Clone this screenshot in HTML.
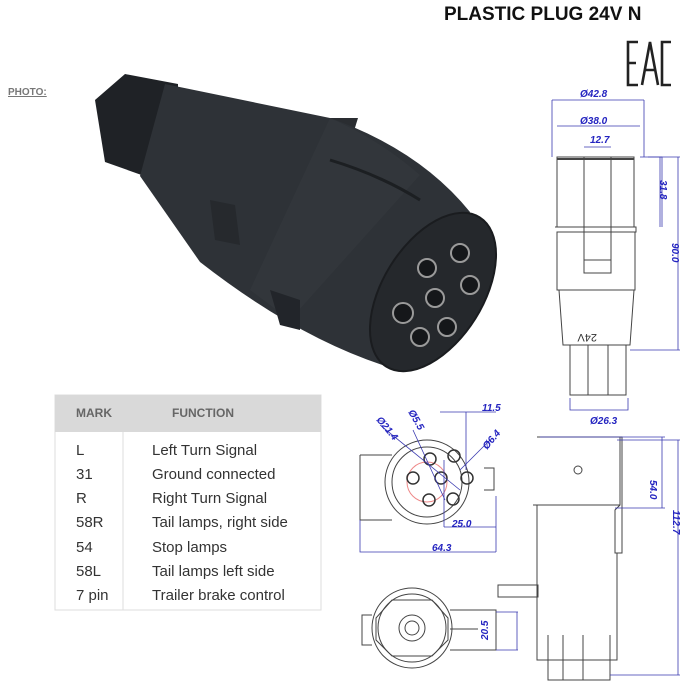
<!DOCTYPE html>
<html><head><meta charset="utf-8"><style>
body{margin:0;background:#fff;width:700px;height:700px;overflow:hidden;font-family:"Liberation Sans",sans-serif}
svg{position:absolute;left:0;top:0}
</style></head><body>
<svg width="700" height="700" viewBox="0 0 700 700" xmlns="http://www.w3.org/2000/svg">
<text x="444" y="20" font-size="19" font-weight="bold" fill="#111">PLASTIC PLUG 24V N</text>
<g stroke="#222" stroke-width="2.6" fill="none">
<path d="M638 42 H628 V85 H638 M628 63 H636"/>
<path d="M642 85 L650 42 L658 85 M645 70 H655"/>
<path d="M671 42 H662 V85 H671"/>
</g>
<text x="8" y="95" font-size="10" font-weight="bold" fill="#777" text-decoration="underline">PHOTO:</text>

<!-- photo -->
<path d="M310 140 L318 118 L358 118 L345 160 Z" fill="#2a2d31"/>
<path d="M95 100 L125 74 L178 84 L178 168 L150 178 L105 162 Z" fill="#1f2226"/>
<path d="M165 84 L330 118 Q420 150 470 212 L392 368 Q300 340 200 262 L140 176 Z" fill="#2e3237"/>
<path d="M330 118 Q380 140 420 175 L290 320 L250 290 Z" fill="#32363b"/>
<path d="M270 290 L300 300 L300 330 L280 325 Z" fill="#22252a"/>
<path d="M210 200 L235 205 L240 245 L215 240 Z" fill="#26292d"/>
<path d="M330 160 Q380 175 420 200" stroke="#1c1f22" stroke-width="3" fill="none"/>
<ellipse cx="433" cy="292" rx="88" ry="50" transform="rotate(-58 433 292)" fill="#25282c" stroke="#1a1c1f" stroke-width="2"/>
<g fill="#15171a" stroke="#9a9a9a" stroke-width="2">
<circle cx="427" cy="268" r="9"/><circle cx="460" cy="253" r="9"/><circle cx="470" cy="285" r="9"/>
<circle cx="435" cy="298" r="9"/><circle cx="403" cy="313" r="10"/><circle cx="420" cy="337" r="9"/><circle cx="447" cy="327" r="9"/>
</g>

<!-- table -->
<rect x="55" y="395" width="266" height="215" fill="#fff" stroke="#ddd"/>
<rect x="55" y="395" width="266" height="37" fill="#d9d9d9"/>
<line x1="123" y1="432" x2="123" y2="610" stroke="#ddd"/>
<text font-size="12" font-weight="bold" fill="#666"><tspan x="76" y="417">MARK</tspan><tspan x="172" y="417">FUNCTION</tspan></text>
<g font-size="15" fill="#333">
<text x="76" y="455">L</text><text x="152" y="455">Left Turn Signal</text>
<text x="76" y="479">31</text><text x="152" y="479">Ground connected</text>
<text x="76" y="503">R</text><text x="152" y="503">Right Turn Signal</text>
<text x="76" y="527">58R</text><text x="152" y="527">Tail lamps, right side</text>
<text x="76" y="552">54</text><text x="152" y="552">Stop lamps</text>
<text x="76" y="576">58L</text><text x="152" y="576">Tail lamps left side</text>
<text x="76" y="600">7 pin</text><text x="152" y="600">Trailer brake control</text>
</g>

<!-- drawings -->
<g fill="none" stroke="#444" stroke-width="1">
<rect x="557" y="157" width="77" height="70"/>
<line x1="557" y1="159" x2="634" y2="159" stroke-width="2"/>
<path d="M555 227 H636 V232 H557 V290 H635 V232 M584 157 V273 H611 V157 M584 260 H611"/>
<path d="M559 290 L563 345 H630 L634 290"/>
<path d="M570 345 V395 H626 V345 M588 345 V395 M608 345 V395"/>
<path d="M360 455 H392 M360 455 V520 H392"/>
<circle cx="427" cy="482" r="42"/><circle cx="427" cy="482" r="35"/>
<circle cx="427" cy="482" r="20" stroke="#e88" />
<g stroke="#333" stroke-width="1.5">
<circle cx="430" cy="459" r="6"/><circle cx="454" cy="456" r="6"/><circle cx="413" cy="478" r="6"/>
<circle cx="441" cy="478" r="6"/><circle cx="467" cy="478" r="6"/><circle cx="429" cy="500" r="6"/><circle cx="453" cy="499" r="6"/>
</g>
<path d="M484 468 H494 V490 H484"/>
<path d="M537 437 H622 V553 H615 V510 L620 505 V437 M533 505 H620 M537 505 V660 H617 V553"/>
<circle cx="578" cy="470" r="4"/>
<path d="M498 585 H538 V597 H498 Z"/>
<path d="M548 635 V680 H610 V635 M563 635 V680 M583 635 V680"/>
<circle cx="412" cy="628" r="40"/><circle cx="412" cy="628" r="34"/>
<path d="M392 600 L432 600 L448 618 L448 640 L432 656 L392 656 L376 640 L376 618 Z"/>
<circle cx="412" cy="628" r="13"/><circle cx="412" cy="628" r="7"/>
<path d="M450 610 H496 V650 H450 M450 629 H478 M372 615 H362 V645 H372"/>
</g>
<g fill="none" stroke="#3a3ab0" stroke-width="0.8">
<path d="M552 100 H644 M552 100 V157 M644 100 V157"/>
<path d="M557 126 H640 M584 147 H611"/>
<path d="M648 157 H662 V227 M660 157 V227"/>
<path d="M640 157 H680 M678 157 V350 M630 350 H680"/>
<path d="M570 398 V410 H628 V398"/>
<path d="M360 520 V552 H496 M496 496 V552"/>
<path d="M444 527 H496 M444 460 V527 M440 412 H496 M466 412 V470"/>
<path d="M380 425 L460 490 M413 430 L445 500 M490 440 L460 470"/>
<path d="M540 437 H665 M615 508 H665 M662 437 V508"/>
<path d="M617 440 H680 M678 440 V675 M610 675 H680"/>
<path d="M496 612 H518 M496 650 H518 M517 612 V650"/>
</g>
<g font-family="Liberation Sans,sans-serif" font-size="10" font-style="italic" font-weight="bold" fill="#2424c0">
<text x="580" y="97">Ø42.8</text><text x="580" y="124">Ø38.0</text><text x="590" y="143">12.7</text>
<text x="660" y="180" transform="rotate(90 660 180)">31.8</text>
<text x="672" y="243" transform="rotate(90 672 243)">90.0</text>
<text x="590" y="424">Ø26.3</text>
<text x="482" y="411">11.5</text>
<text x="452" y="527">25.0</text><text x="432" y="551">64.3</text>
<text x="650" y="480" transform="rotate(90 650 480)">54.0</text>
<text x="673" y="510" transform="rotate(90 673 510)">112.7</text>
<text x="508" y="620" transform="rotate(-90 508 640)">20.5</text>
<text x="376" y="420" transform="rotate(50 376 420)">Ø21.4</text>
<text x="408" y="412" transform="rotate(60 408 412)">Ø5.5</text>
<text x="487" y="450" transform="rotate(-50 487 450)">Ø6.4</text>
</g>
<text x="603" y="334" font-size="11" fill="#333" transform="rotate(180 600 334)">24V</text>
</svg>
</body></html>
